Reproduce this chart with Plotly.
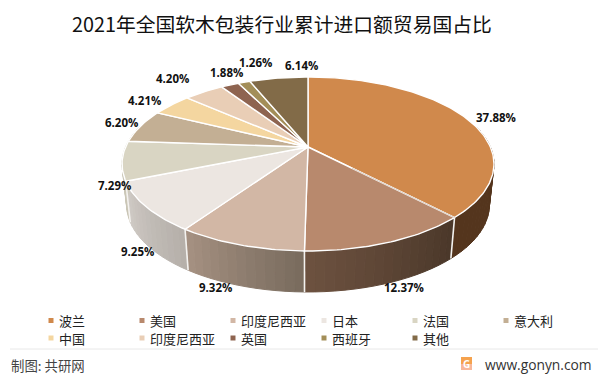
import numpy as np
import plotly.graph_objects as go

title = "2021年全国软木包装行业累计进口额贸易国占比"
categories = ["波兰", "美国", "印度尼西亚", "日本", "法国", "意大利", "中国", "印度尼西亚", "英国", "西班牙", "其他"]
values = [37.88, 12.37, 9.32, 9.25, 7.29, 6.20, 4.21, 4.20, 1.88, 1.26, 6.14]
top_colors = ["#D0894C", "#B8896D", "#D2B7A5", "#ECE6E1", "#D9D5C3", "#C3AF94", "#F4D6A0", "#E9CEB6", "#8E6450", "#A38E58", "#826B48"]
wall_right = ["#54351D", "#4A3729", "#786A5D", "#B5AFA9", "#C8C4B4", "#AA9980", "#D0B688", "#C6AF9B", "#795544", "#8B794B", "#6F5B3D"]
wall_left = ["#54351D", "#6D5240", "#A69282", "#D0CBC6", "#CFCBBB", "#AA9980", "#D0B688", "#C6AF9B", "#795544", "#8B794B", "#6F5B3D"]

# Projection of the tilted disc onto the pixel-mapped axes
CX, CY, A, B, K = 308.0, 147.0, 182.4, 83.7, 0.195
DROP, SHRINK = 41.0, 0.975


def project(theta, r=1.0):
    X, Y = r * np.sin(theta), -r * np.cos(theta)
    w = 1 - K * Y
    return CX + A * X / w, CY + B * Y / w


def lower(theta):
    x, y = project(theta)
    return CX + (x - CX) * SHRINK, y + DROP


def mix(c1, c2, t):
    a = [int(c1[i:i + 2], 16) for i in (1, 3, 5)]
    b = [int(c2[i:i + 2], 16) for i in (1, 3, 5)]
    return "rgb(%d,%d,%d)" % tuple(round(p + (q - p) * t) for p, q in zip(a, b))


edges = np.concatenate([[0.0], np.cumsum(values)]) / sum(values) * 2 * np.pi
fig = go.Figure()

# Side wall, one narrow strip at a time so that it can carry a gradient
for i in range(len(values)):
    t0, t1 = edges[i], edges[i + 1]
    steps = max(2, int(np.degrees(t1 - t0) / 2.5))
    grid = np.linspace(t0, t1, steps + 1)
    for j in range(steps):
        a, b = grid[j], grid[j + 1]
        if -np.cos((a + b) / 2) < -0.25:
            continue
        xt, yt = project(np.array([a, b]))
        xb, yb = lower(np.array([b, a]))
        col = mix(wall_right[i], wall_left[i], (j + .5) / steps)
        fig.add_trace(go.Scatter(x=[*xt, *xb, xt[0]], y=[*yt, *yb, yt[0]], mode="lines", fill="toself",
                                 fillcolor=col, line=dict(color=col, width=1), hoverinfo="skip", showlegend=False))
    if np.cos(t0) < 0.2:
        xt, yt = project(t0)
        xb, yb = lower(t0)
        fig.add_trace(go.Scatter(x=[xt, xb], y=[yt, yb], mode="lines", line=dict(color="#F4F2EF", width=1.6),
                                 hoverinfo="skip", showlegend=False))

# Top faces
for i in range(len(values)):
    arc = np.linspace(edges[i], edges[i + 1], max(3, int(np.degrees(edges[i + 1] - edges[i]))))
    xa, ya = project(arc)
    fig.add_trace(go.Scatter(x=[CX, *xa, CX], y=[CY, *ya, CY], mode="lines", fill="toself", fillcolor=top_colors[i],
                             line=dict(color="#FFFFFF", width=1.4), name=categories[i],
                             text=f"{categories[i]} {values[i]:.2f}%", hoverinfo="text", showlegend=False))

# Thin seam inside the white line between the first two slices
xs, ys = project(edges[1])
fig.add_trace(go.Scatter(x=[CX + (xs - CX) * .3, xs], y=[CY + (ys - CY) * .3, ys], mode="lines",
                         line=dict(color="#B9A08C", width=0.5), hoverinfo="skip", showlegend=False))

annotations = []
# Percentage labels, placed from each slice's mid-angle on the rim
label_offsets = [(30, -1), (15, 45), (-24, 43), (-9, 45), (-8, 25), (-19, -4), (-27, -4), (-31, -13), (-3, -13), (11, -20), (23, -13)]
for i, v in enumerate(values):
    x0, y0 = project((edges[i] + edges[i + 1]) / 2)
    dx, dy = label_offsets[i]
    annotations.append(dict(x=float(x0 + dx), y=float(y0 + dy), text=f"{v:.2f}%", showarrow=False,
                            font=dict(family="Open Sans, Liberation Sans", size=11.5, color="#111111", weight="bold")))

# Legend grid
col_x = [51 + 91 * k for k in range(6)]
row_y = [320.5, 338]
lx, ly, lc = [], [], []
for i, name in enumerate(categories):
    c, r = i % 6, i // 6
    lx.append(col_x[c]); ly.append(row_y[r]); lc.append(top_colors[i])
    annotations.append(dict(x=col_x[c] + 6, y=row_y[r], text=name, xanchor="left", showarrow=False,
                            font=dict(family="Noto Sans CJK SC", size=13, color="#222222")))
fig.add_trace(go.Scatter(x=lx, y=ly, mode="markers", marker=dict(symbol="square", size=5, color=lc),
                         hoverinfo="skip", showlegend=False))

annotations += [
    dict(x=281.5, y=23, text=title, showarrow=False, font=dict(family="Noto Sans CJK SC", size=19.8, color="#111111")),
    dict(x=9, y=364.5, text="制图: 共研网", xanchor="left", showarrow=False,
         font=dict(family="Noto Sans CJK SC", size=13.4, color="#444444")),
    dict(x=594, y=364, text="www.gonyn.com", xanchor="right", showarrow=False,
         font=dict(family="Open Sans", size=13.8, color="#333333")),
    dict(x=466.5, y=363.5, text="<b>G</b>", showarrow=False, font=dict(family="Open Sans", size=10, color="#FFFFFF")),
]

fig.update_layout(
    width=599, height=376, margin=dict(l=0, r=0, t=0, b=0),
    paper_bgcolor="#FFFFFF", plot_bgcolor="#FFFFFF",
    xaxis=dict(range=[0, 599], visible=False, fixedrange=True),
    yaxis=dict(range=[376, 0], visible=False, fixedrange=True),
    annotations=annotations, showlegend=False,
    shapes=[
        dict(type="line", x0=10, x1=598, y0=349, y1=349, line=dict(color="#E8E8E8", width=1)),
        dict(type="rect", x0=461, x1=472, y0=357, y1=364, fillcolor="#F5A24E", line=dict(width=0), layer="below"),
        dict(type="rect", x0=461, x1=472, y0=364, y1=370, fillcolor="#F8B79A", line=dict(width=0), layer="below"),
    ],
)
fig.write_html("out.html", config={"displayModeBar": False},
               post_script="document.body.style.margin='0';document.body.style.overflow='hidden';")
